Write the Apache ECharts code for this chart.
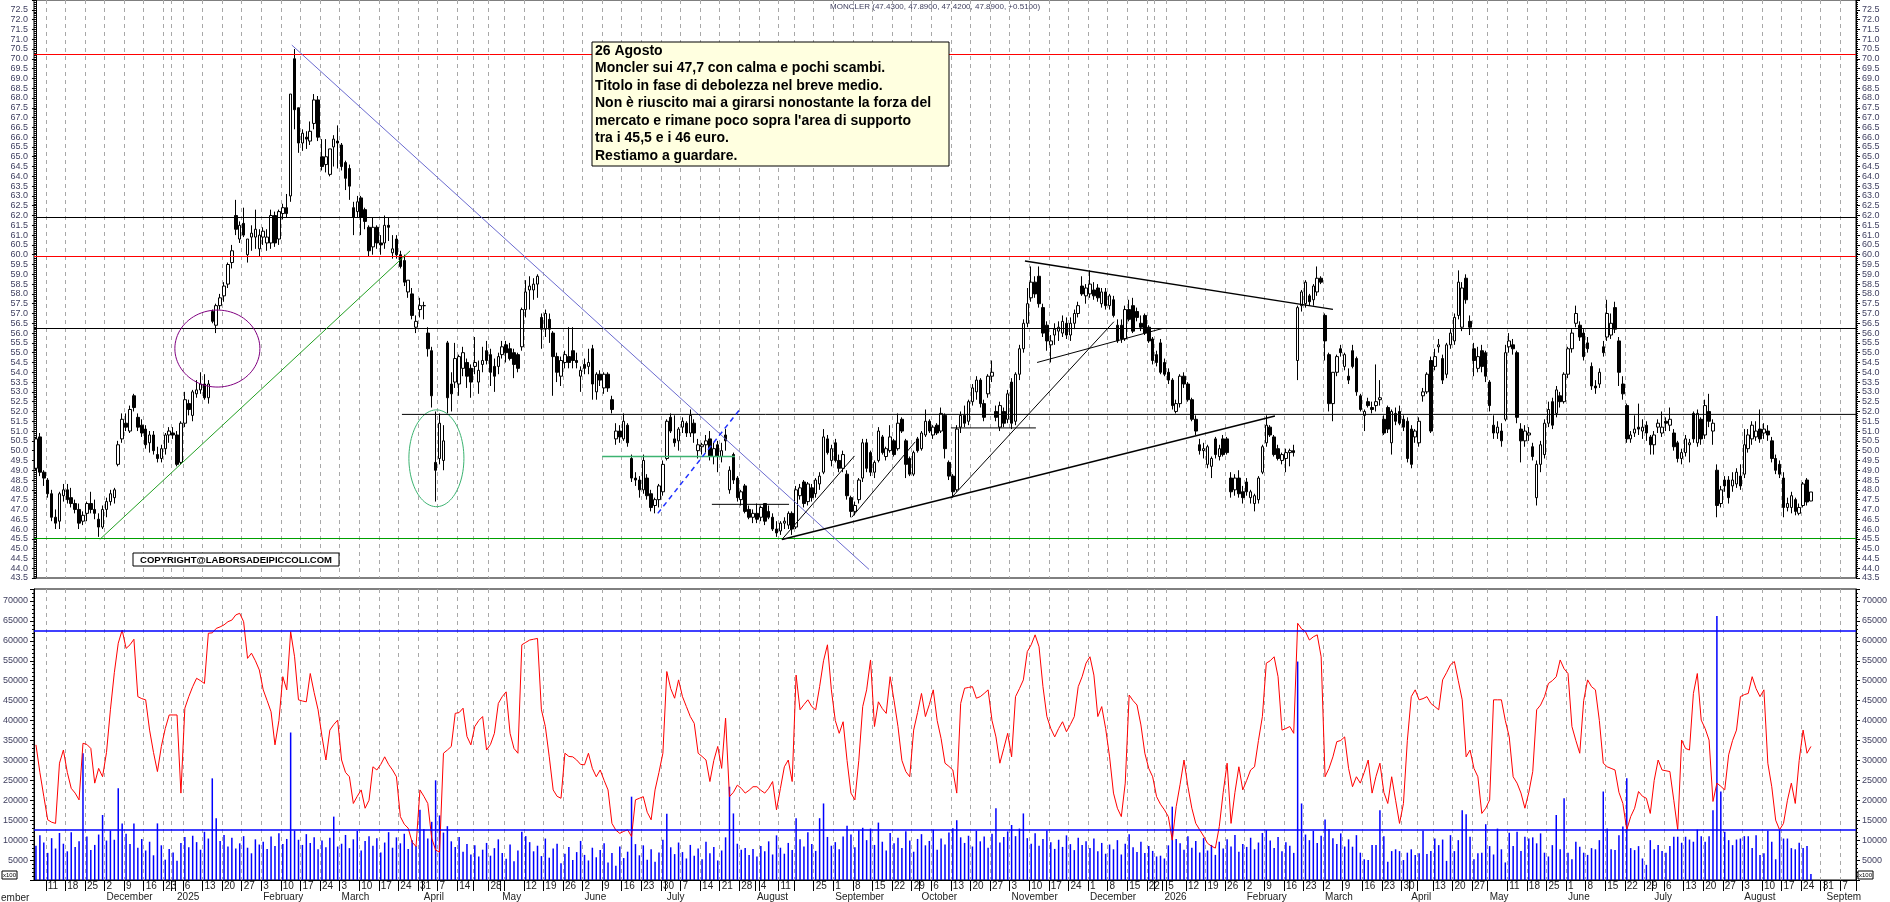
<!DOCTYPE html>
<html><head><meta charset="utf-8">
<script src="https://cdn.jsdelivr.net/npm/echarts/dist/echarts.min.js"></script>
<style>html,body{margin:0;padding:0;background:#fff;}#c{width:1890px;height:902px;}</style>
</head><body><div id="c"></div>
<script>
// ---------- DATA ----------
const startDate = '2024-11-06';
const endDate = '2026-09-10';
const holidays = ['2024-12-24','2024-12-25','2024-12-26','2024-12-31','2025-01-01','2025-04-18','2025-04-21','2025-05-01','2025-08-15','2025-12-24','2025-12-25','2025-12-26','2025-12-31','2026-01-01','2026-04-03','2026-04-06','2026-05-01'];
const monthNames = ['','February','March','April','May','June','July','August','September','October','November','December'];

// daily candles: [open, high, low, close]
const candles = [
[49.1,50.7,49.0,50.6],[50.7,50.9,48.7,48.9],[48.9,49.0,48.2,48.6],[48.5,48.6,47.6,47.8],[47.8,48.0,46.4,46.6],[46.6,47.0,46.0,46.3],[46.4,47.9,46.0,47.8],[47.7,48.3,47.4,48.0],[48.0,48.3,47.3,47.5],[47.6,48.1,47.1,47.3],
[47.3,47.5,46.8,47.0],[47.0,47.3,46.0,46.3],[46.4,46.9,46.2,46.7],[46.8,47.4,46.4,47.3],[47.3,47.9,46.8,47.0],[47.0,47.5,46.5,46.8],[46.5,46.8,45.6,46.1],[46.1,47.2,46.0,47.0],[47.0,47.6,46.6,47.4],[47.4,48.0,47.2,47.8],
[47.6,48.1,47.3,48.0],[49.3,50.5,49.2,50.3],[50.6,51.9,50.4,51.6],[51.4,51.9,51.0,51.2],[51.0,52.3,50.9,52.1],[52.8,52.9,52.0,52.2],[51.7,51.9,51.0,51.2],[51.3,51.6,50.7,50.9],[51.1,51.3,50.1,50.3],[50.4,51.0,49.9,50.8],
[50.8,51.0,49.8,50.0],[49.8,50.2,49.4,49.6],[49.6,50.3,49.4,50.1],[50.1,50.9,49.8,50.8],[50.8,51.2,50.4,51.0],[50.9,51.2,50.6,50.8],[50.8,51.0,49.2,49.3],[49.4,51.5,49.3,51.4],[51.4,53.0,51.2,52.6],[52.4,52.6,51.8,52.1],
[51.8,53.1,51.5,53.0],[52.9,53.6,52.7,53.1],[53.1,54.0,52.9,53.4],[53.4,53.9,52.6,52.7],[52.7,53.6,52.4,53.4],[57.1,57.2,56.5,56.6],[56.4,57.5,56.0,57.4],[57.4,58.0,57.2,57.8],[57.9,58.6,57.6,58.4],[58.5,59.6,58.3,59.5],
[59.6,60.5,59.3,60.2],[62.0,62.8,61.0,61.3],[60.8,61.7,60.6,61.5],[61.6,62.4,60.9,61.0],[60.0,60.8,59.6,60.8],[60.9,61.5,60.2,61.1],[60.9,62.3,60.3,61.3],[60.3,61.3,59.9,61.0],[60.9,61.4,60.5,61.2],[60.6,61.3,60.2,60.9],
[60.6,62.3,60.3,62.0],[62.0,62.2,60.4,60.6],[60.8,62.3,60.5,62.2],[62.1,62.6,61.8,62.4],[62.4,63.1,61.9,62.1],[63.0,68.2,62.7,68.2],[70.0,70.5,66.4,67.4],[67.5,67.5,65.2,65.7],[65.7,66.4,65.3,66.2],[66.0,66.3,65.4,65.9],
[65.8,66.8,65.6,66.3],[66.7,68.2,66.4,67.9],[67.9,68.1,65.8,66.0],[65.0,65.9,64.3,64.5],[64.6,65.9,64.2,65.0],[64.1,65.4,64.0,65.4],[65.5,66.1,64.5,65.9],[65.8,66.6,64.4,65.7],[65.6,65.7,64.3,64.5],[64.7,64.8,63.3,63.9],
[64.4,64.6,62.8,63.5],[62.4,62.7,61.0,61.9],[62.2,63.0,61.9,62.7],[62.9,63.0,61.0,61.9],[62.3,62.4,61.3,61.7],[61.4,61.5,59.9,60.2],[60.4,61.9,60.0,61.4],[61.4,61.5,60.3,60.6],[60.6,61.0,60.0,60.5],[60.6,62.0,60.3,61.5],
[61.5,61.9,60.7,61.4],[60.1,61.0,59.8,60.3],[60.8,61.0,59.8,60.0],[60.0,60.2,59.3,59.4],[59.7,60.0,58.4,58.6],[58.1,58.7,57.8,58.7],[58.0,58.3,56.7,56.9],[56.3,56.9,56.0,56.6],[57.2,57.8,56.8,57.4],[57.4,57.6,56.7,57.4],
[56.0,56.3,54.8,55.2],[55.1,55.3,52.2,52.8],[49.4,52.0,47.4,49.0],[49.6,51.9,49.3,51.4],[49.5,51.3,49.0,50.5],[55.5,55.6,51.9,52.7],[53.4,54.0,52.0,52.9],[53.5,55.5,53.2,54.7],[53.4,54.9,52.8,54.8],[54.2,55.3,53.8,55.0],
[54.5,54.7,53.2,53.8],[54.2,54.4,52.7,53.5],[54.3,55.8,53.9,54.5],[53.5,54.6,52.9,54.1],[54.4,55.3,54.0,54.6],[55.1,55.6,54.4,54.6],[54.9,55.2,53.3,54.0],[54.3,54.7,53.0,53.8],[54.3,55.0,53.9,54.8],[54.9,55.6,54.7,55.3],
[55.4,55.6,54.5,55.0],[55.2,55.5,54.6,54.7],[55.0,55.2,53.7,54.4],[54.9,55.0,54.0,54.2],[55.3,57.3,55.1,57.2],[57.2,58.7,56.8,58.1],[58.2,58.9,57.2,58.4],[58.2,58.8,57.7,58.5],[58.5,59.0,57.8,58.9],[56.8,57.0,55.2,56.2],
[56.2,57.2,55.8,57.0],[56.7,57.0,55.5,56.2],[56.0,56.1,52.8,54.8],[54.8,55.0,53.5,54.0],[53.8,54.8,53.3,54.6],[54.5,55.1,54.2,54.9],[54.8,56.3,54.2,54.5],[55.1,56.3,54.2,54.6],[54.6,55.0,54.2,54.5],[53.8,54.3,53.0,54.1],
[54.4,54.7,53.9,54.2],[54.3,55.2,53.9,54.5],[55.2,55.4,52.6,53.4],[53.0,54.0,52.6,53.9],[53.9,54.1,53.3,53.6],[53.2,54.0,52.9,53.9],[53.9,54.0,53.0,53.2],[52.6,52.8,51.9,52.1],[50.6,51.4,50.3,51.0],[51.0,51.3,50.4,50.7],
[50.6,51.9,50.5,51.5],[51.3,51.4,50.2,50.4],[49.6,49.8,48.4,48.6],[48.6,48.9,48.2,48.5],[48.5,48.7,47.6,48.0],[48.0,49.8,47.8,49.5],[48.6,48.8,47.5,47.7],[47.8,48.0,46.9,47.1],[47.2,47.6,46.8,47.5],[47.5,48.3,47.1,48.2],
[47.9,49.5,47.7,49.3],[49.6,51.6,49.5,51.5],[51.7,51.9,50.9,51.0],[50.6,51.8,50.2,50.4],[50.5,51.2,50.0,51.1],[51.2,51.7,50.9,51.5],[51.4,51.5,50.7,50.9],[50.9,52.1,50.7,51.8],[51.4,51.6,50.4,50.9],[50.0,50.6,49.6,50.3],
[50.2,50.4,49.8,50.3],[50.3,50.8,49.9,50.5],[50.6,51.0,49.5,49.7],[49.7,50.4,49.3,50.1],[50.3,50.5,48.9,49.7],[49.7,50.4,49.4,50.0],[50.8,51.1,50.0,50.5],[48.0,49.2,47.8,49.0],[49.8,49.9,48.3,48.5],[48.6,48.7,47.4,47.6],
[47.5,48.0,47.2,47.9],[48.2,48.3,46.8,46.9],[47.0,47.2,46.5,46.6],[46.6,47.0,46.3,46.8],[46.8,47.3,46.3,46.5],[46.6,47.2,46.4,47.1],[47.3,47.3,46.2,46.4],[46.9,47.2,46.5,46.6],[46.6,46.8,45.9,46.0],[46.0,46.4,45.6,45.8],
[45.9,46.4,45.7,46.3],[46.3,46.6,46.0,46.4],[46.2,46.9,46.0,46.8],[46.8,46.9,45.7,46.0],[46.1,48.2,46.0,48.0],[47.7,48.3,47.5,48.1],[48.4,48.5,47.1,47.3],[47.4,48.4,47.2,48.3],[48.1,48.3,47.4,47.6],[47.8,48.6,47.6,48.5],
[48.3,48.9,48.0,48.7],[48.9,51.1,48.8,50.7],[50.6,50.8,49.8,49.9],[49.5,50.3,49.2,50.1],[50.4,50.6,49.4,49.5],[49.5,49.8,48.9,49.1],[49.1,50.0,48.9,49.8],[48.8,49.0,47.5,47.7],[47.6,47.7,46.6,46.9],[46.9,47.4,46.7,47.2],
[47.5,48.6,47.3,48.5],[48.6,50.6,48.4,50.4],[50.4,50.6,48.9,49.1],[49.9,50.0,48.7,48.9],[48.9,49.5,48.6,49.4],[49.5,51.2,49.4,51.0],[50.7,50.8,49.8,49.9],[49.7,50.2,49.5,50.1],[50.0,51.3,49.9,50.7],[50.5,50.6,49.7,49.8],
[50.1,51.9,50.0,51.4],[51.6,51.7,50.9,51.0],[50.5,50.6,48.6,49.3],[49.6,49.7,48.7,48.8],[48.8,50.0,48.7,49.9],[50.6,50.7,49.9,50.0],[50.1,51.0,50.0,50.9],[50.8,52.1,50.7,51.5],[51.5,51.6,50.9,51.0],[50.8,51.3,50.6,51.2],
[51.3,51.4,50.8,50.9],[51.0,52.2,50.9,51.9],[51.8,51.9,49.6,50.1],[49.4,49.5,48.5,48.7],[48.7,48.8,47.6,47.9],[48.0,51.3,47.9,51.1],[51.2,52.0,50.9,51.8],[51.8,52.3,51.2,51.4],[51.5,52.6,51.3,52.5],[52.5,53.4,52.3,53.2],
[53.0,53.8,52.6,53.6],[53.6,53.7,52.2,52.4],[52.4,52.6,51.5,51.7],[52.9,53.9,52.7,53.8],[53.8,54.6,53.5,54.0],[52.0,52.3,51.5,51.7],[51.2,52.5,51.0,52.3],[52.0,52.2,51.2,51.4],[51.6,53.1,51.4,52.9],[53.5,53.7,51.1,51.4],
[51.5,54.0,51.3,53.9],[53.9,55.4,53.6,55.2],[55.2,56.7,55.0,56.5],[56.5,58.3,56.3,57.5],[57.8,59.4,57.6,58.6],[58.6,58.9,57.8,58.0],[58.9,59.4,57.3,57.5],[57.3,57.5,55.8,56.0],[56.4,56.6,55.1,55.6],[55.4,55.9,54.5,55.6],
[55.9,56.5,55.4,56.2],[56.1,56.6,55.6,56.3],[56.0,56.9,55.8,56.6],[56.5,56.8,55.7,55.9],[55.9,56.8,55.6,56.5],[56.5,57.2,56.2,57.0],[57.0,57.6,56.8,57.4],[58.4,58.9,57.9,58.0],[57.9,58.5,57.5,58.3],[58.0,59.2,57.8,58.5],
[58.2,58.6,57.7,57.9],[58.3,58.5,57.6,57.8],[57.5,58.3,57.3,58.1],[58.1,58.3,57.2,57.4],[57.4,58.0,57.2,57.9],[57.7,57.9,56.8,56.9],[56.4,56.7,55.5,55.6],[56.4,56.7,55.5,55.7],[55.7,57.4,55.6,57.2],[57.2,57.7,56.6,56.7],
[57.4,57.8,56.0,56.1],[57.1,57.3,56.6,56.8],[56.5,56.9,56.1,56.3],[56.9,57.0,55.9,56.0],[56.3,56.4,55.5,55.6],[55.7,55.8,54.4,54.6],[54.9,55.1,54.3,54.5],[55.5,55.7,53.9,54.0],[54.5,54.7,53.8,53.9],[54.0,54.2,53.4,53.6],
[53.6,53.7,52.1,52.3],[52.0,52.6,51.9,52.4],[52.4,53.9,52.2,53.8],[53.8,54.0,53.2,53.4],[53.4,53.5,52.5,52.6],[52.6,52.7,51.5,51.6],[51.6,51.8,50.8,51.0],[50.3,50.6,49.8,50.0],[50.0,50.4,49.6,50.1],[49.3,50.3,49.1,50.2],
[49.2,49.7,48.6,49.6],[50.6,50.7,49.6,49.8],[49.7,50.3,49.5,50.1],[50.6,50.8,49.7,49.8],[50.6,50.7,49.8,49.9],[48.6,48.9,47.6,47.9],[48.0,48.8,47.7,48.6],[48.6,49.0,47.6,47.8],[47.9,48.2,47.3,47.6],[48.4,48.6,47.7,47.9],
[47.6,48.0,47.3,47.9],[47.3,47.8,46.9,47.7],[47.5,48.7,47.3,48.6],[48.9,50.3,48.8,50.2],[50.4,51.8,50.2,51.3],[51.2,51.3,50.7,50.8],[50.7,50.8,49.7,49.8],[50.1,50.3,49.5,49.6],[49.5,49.9,49.3,49.8],[49.6,50.1,48.9,49.9],
[49.9,50.1,49.2,50.0],[50.0,50.3,49.7,49.9],[54.6,57.4,53.6,57.3],[57.4,58.2,57.1,58.1],[57.5,58.7,57.3,58.6],[57.9,58.0,57.4,57.6],[57.7,58.5,57.4,58.4],[58.1,59.4,57.9,58.8],[58.8,58.9,58.5,58.6],[56.9,57.0,54.6,55.6],
[54.9,55.0,52.0,52.4],[52.4,54.0,51.5,54.0],[54.0,54.9,53.8,54.8],[55.2,55.4,54.8,55.0],[54.3,55.0,54.1,54.9],[53.8,54.2,53.4,53.6],[55.1,55.4,54.2,54.3],[54.7,54.8,52.8,53.0],[52.8,52.9,52.0,52.1],[51.8,52.1,51.0,52.0],
[52.5,52.7,52.2,52.3],[52.2,52.5,51.9,52.1],[52.3,54.4,52.0,52.5],[52.6,53.6,52.3,52.7],[51.6,51.8,50.8,50.9],[52.2,52.3,50.9,51.1],[50.4,52.1,49.8,52.0],[51.9,52.2,51.3,51.5],[52.0,52.3,51.3,51.4],[51.6,51.8,51.0,51.2],
[51.5,51.7,49.4,49.6],[51.1,51.3,49.1,49.3],[50.7,51.1,50.4,51.0],[50.4,51.7,50.2,51.5],[52.8,53.2,52.5,53.0],[53.0,54.0,52.9,53.9],[54.6,54.8,50.9,51.0],[54.3,55.2,54.1,54.8],[55.3,55.7,55.0,55.4],[54.7,54.9,53.4,53.6],
[53.9,55.5,53.7,55.4],[55.4,56.2,55.2,56.0],[55.6,57.0,55.4,56.8],[56.9,59.2,56.7,58.6],[56.3,58.6,56.1,58.3],[58.8,59.0,57.5,57.7],[56.6,56.9,55.9,56.3],[55.2,55.5,53.8,54.6],[54.2,55.3,54.0,54.8],[55.1,55.4,54.0,54.3],
[55.0,55.1,53.5,53.8],[53.5,53.6,52.0,52.3],[51.3,51.8,50.6,50.9],[50.9,51.5,50.6,51.2],[51.0,51.4,50.2,50.5],[51.6,55.4,51.5,55.0],[55.3,56.0,55.0,55.6],[55.4,55.7,54.9,55.2],[55.0,55.1,51.4,51.7],[51.1,51.4,49.4,50.5],
[50.5,51.3,50.2,51.0],[50.8,51.2,50.5,50.9],[50.2,50.4,49.5,49.7],[47.6,49.5,47.2,49.3],[49.3,50.5,48.9,50.3],[49.8,51.6,49.6,51.4],[51.4,52.5,51.2,52.1],[52.5,52.7,51.1,51.3],[51.9,53.3,51.7,53.1],[52.8,53.0,52.2,52.5],
[52.5,54.0,52.4,53.9],[53.9,55.3,53.7,55.2],[55.2,56.2,55.0,56.0],[56.5,57.4,56.3,57.0],[56.4,56.6,55.6,55.8],[56.0,56.2,54.6,54.8],[55.5,55.8,55.0,55.2],[54.3,54.5,53.1,53.3],[53.3,53.6,52.9,53.2],[53.4,54.2,53.2,54.0],
[55.3,55.6,54.8,55.0],[55.8,57.7,55.6,57.0],[55.9,57.0,55.7,56.5],[57.3,57.6,56.0,56.2],[55.6,55.8,53.3,54.0],[53.4,53.8,52.6,52.9],[52.3,52.4,50.4,50.6],[50.6,51.0,50.4,50.8],[50.9,51.8,50.7,51.1],[51.2,52.4,50.8,51.1],
[51.0,51.6,50.6,51.2],[51.3,51.5,50.5,50.9],[50.7,50.8,49.8,50.3],[50.3,51.0,49.8,50.8],[51.2,51.6,50.9,51.4],[50.9,52.0,50.7,51.2],[51.5,51.7,51.0,51.4],[51.3,52.2,51.0,51.6],[50.9,51.1,50.0,50.2],[50.4,50.5,49.4,49.6],
[49.6,50.1,49.3,49.9],[49.9,50.8,49.7,50.6],[50.3,50.6,49.4,50.4],[51.9,52.0,50.4,50.6],[50.4,52.1,50.2,51.9],[51.6,51.7,50.3,50.6],[50.8,52.6,50.6,52.3],[52.0,52.9,51.2,51.5],[51.0,51.6,50.3,51.4],[49.0,49.3,46.6,47.2],
[47.3,48.2,47.1,48.0],[48.5,48.7,47.9,48.2],[48.5,48.7,47.3,47.6],[48.2,48.9,47.9,48.5],[48.3,49.1,48.1,48.9],[48.7,49.3,48.0,48.2],[48.8,51.1,48.6,50.3],[50.1,51.1,49.9,50.8],[50.6,51.5,50.3,51.3],[50.7,51.5,50.5,51.0],
[51.1,52.1,50.4,50.6],[50.9,51.4,50.6,51.1],[51.0,51.3,50.5,50.8],[50.5,50.7,49.4,49.6],[49.6,49.8,48.8,49.0],[49.3,49.5,48.6,48.8],[48.6,48.9,46.6,47.1],[47.1,47.6,46.9,47.3],[47.1,47.9,46.8,47.7],[47.5,47.6,46.7,46.9],
[46.8,47.3,46.7,47.1],[47.2,48.4,47.1,48.3],[48.5,48.6,47.2,47.38],[47.43,47.89,47.42,47.89]
];

// daily volume (thousands, axis shown in x100 units)
const volumes = [
8.6,11.2,9.4,6.8,10.5,7.9,11.8,9.1,7.2,12.0,8.3,9.7,31.8,10.9,7.5,8.8,11.4,16.3,9.9,12.4,10.1,23.0,14.2,11.6,9.0,14.2,8.1,10.3,7.4,9.6,6.2,14.2,8.7,5.1,7.8,6.9,
4.8,9.3,10.8,8.2,11.1,9.5,7.6,12.1,10.4,25.5,15.5,9.8,11.3,8.4,10.6,7.9,9.2,11.0,8.1,6.7,10.2,8.9,
9.6,7.8,10.9,8.5,11.7,9.0,10.3,37.0,12.4,10.1,8.8,11.5,9.3,10.7,7.7,9.9,8.2,10.6,15.9,8.4,
9.1,11.3,8.0,10.2,12.3,7.4,9.8,11.0,8.6,10.5,6.9,9.4,12.0,8.1,10.7,9.2,11.6,7.8,10.0,8.5,17.6,
12.8,10.4,14.6,25.0,16.2,11.9,13.5,9.7,8.3,10.8,7.1,9.0,6.4,8.7,5.9,7.6,9.3,6.1,8.0,10.2,
6.8,5.3,8.9,4.7,7.4,12.1,11.0,9.5,7.2,8.6,6.0,10.4,5.6,7.9,9.1,4.2,6.6,8.3,5.0,7.0,9.8,
6.3,4.9,8.1,5.7,7.5,9.2,4.4,6.8,3.6,8.4,5.5,7.1,20.9,9.0,6.2,8.7,5.1,7.7,4.6,6.9,10.1,
16.6,8.2,6.5,9.4,7.0,5.4,8.8,6.1,7.9,5.2,9.6,6.7,8.3,4.9,7.4,10.7,23.4,16.7,9.1,7.6,8.0,6.3,7.8,
5.9,8.5,7.2,9.7,6.4,11.2,8.1,6.6,9.3,7.5,15.5,10.2,8.4,12.0,9.0,7.3,15.5,19.2,10.8,8.6,
9.5,7.7,10.9,13.6,11.4,8.2,12.5,13.1,10.0,12.9,8.8,14.4,9.6,7.4,11.8,9.2,10.6,8.0,12.2,9.9,7.1,10.3,
11.5,8.7,9.8,12.6,7.6,10.4,8.9,11.9,13.0,15.0,10.7,9.3,11.1,8.4,12.3,9.7,10.9,8.1,11.6,18.0,9.4,10.8,12.2,
13.8,11.0,12.9,16.7,10.5,9.1,11.7,8.6,10.3,12.4,9.5,7.8,10.1,8.3,11.2,9.0,7.5,10.6,8.8,9.7,
8.0,10.4,7.2,9.3,6.6,8.9,7.7,10.0,6.4,9.1,11.5,8.2,7.0,9.6,6.8,8.5,7.3,5.9,6.1,
5.4,8.7,18.4,10.3,9.2,7.6,11.0,8.1,9.8,6.9,10.5,7.4,8.8,6.3,9.6,7.9,10.2,8.4,11.3,7.1,9.0,
8.3,10.6,7.7,9.4,11.8,12.5,9.9,8.0,10.8,7.2,9.5,8.6,6.8,54.8,19.2,11.4,10.0,12.3,9.3,11.1,
15.2,12.8,10.5,9.0,11.7,8.4,10.2,
8.35,11.25,6.85,5.2,5.0,8.75,8.75,17.5,11.0,4.6,
7.25,7.7,7.25,5.0,6.85,7.7,6.3,6.7,12.35,6.5,
7.25,10.4,8.75,10.15,4.8,11.25,7.25,10.0,17.5,16.5,
10.85,5.2,6.7,6.85,14.0,8.5,6.4,12.9,7.7,4.4,
11.85,8.5,12.1,7.25,10.85,10.4,10.7,9.2,11.7,6.85,
5.9,8.75,16.3,7.7,20.5,6.85,5.2,9.6,8.35,6.85,
6.3,8.0,7.7,10.0,22.2,12.9,7.7,7.5,11.25,13.4,
25.5,8.0,7.5,8.5,5.4,3.8,10.0,7.7,8.75,7.25,
6.85,8.5,10.85,10.85,9.35,10.85,10.15,9.6,12.65,11.0,
9.6,11.0,17.5,66.2,22.2,12.1,10.0,8.75,10.15,10.4,
11.0,11.0,8.0,11.25,6.3,6.7,12.35,9.6,5.2,12.5,
10.4,10.4,8.0,7.7,9.35,8.0,8.5,1.5
];

// red indicator line (thousands)
const oscillator = [
33.9,27,21,15.1,14.5,14.2,29.3,32.6,27,23,
21.8,20.1,34.3,34,33,24.3,28,25.9,32,42.7,
52,59.4,62.7,58.1,59,60.4,46,45.5,45.2,37.6,
32,27.2,33.5,38,41.4,41.4,41.4,21.8,43.1,46,
48.5,50.6,50,49.3,61.9,62,63.1,63.5,64,64.8,
65.2,66.5,66.9,64.8,55.6,56.9,55,52.7,47.7,45,
42.2,33.9,40,51,47.7,62.3,56,45.2,44.9,44.7,
51.8,47,42.7,36,30.1,37.6,39,40.1,30.1,27,
25.9,19.2,21,22.6,18,20,28.4,27.6,29,30.9,
29,27.6,25.9,15.9,14,13,9.5,8.4,22.6,21,
19.2,10.5,7.5,7,31.8,32.6,33.5,41.8,42,43.1,
36,33.9,38.5,40,41,32.6,34,36.8,44.3,46,
47.2,36.8,33,31.8,59,59.6,60.2,60.4,60.6,42.7,
38.5,30.9,22.6,21,20.5,31.8,31,30.9,30.1,29,
28.9,31.8,28,25.9,27.6,25,22.6,14.2,12.5,11.7,
12.2,12.6,10.9,20.1,20.5,20.9,17,15.1,22.6,27,
31.8,52.3,48,45.6,50.2,46,43.5,41,39.3,31.8,
31,30.1,24.7,30,33.5,28,40.6,20.9,22,23.8,
23,21.8,22.5,23.4,23.4,22.5,21.8,23,24.7,17.6,
23,28.4,30.1,24.7,51.4,42.7,44,45.2,43.5,42.7,
48.5,55,59,47.7,40,36.8,39.7,30,21.8,20.1,
30,43.5,47.7,55.2,38.5,44.7,43,41.8,51,45,
38.5,30,27.2,25.9,37.6,42,46.8,41,44,47.7,
40,35.5,29.3,28.5,27.6,21.8,44.3,48.1,48.3,48.5,
45.6,46,46.8,47.7,40,35.9,29.3,33,36.8,30.9,
46,48,50.2,57.3,59,61.5,58.5,48.5,41,38,
35.9,38,39.7,37.2,39,41,48.5,51,54.4,56,
51.4,41,43.5,38,30.9,21.8,18,15.9,24.3,46.4,
45,43.9,38.9,31.8,28,25.9,20.9,19,17.6,15.9,
10,18.4,24,30.1,23.4,18,14.2,12.6,11,9.2,
8.5,8,13.4,22,29.3,14.2,22,28.4,22.6,25,
27.6,28.4,35,41,54.4,55,56,51,37.6,38,
38.5,36.8,64.4,63,62.3,60.2,61,61.5,56,25.9,
28,30.9,34.7,35,35.9,28,23.4,25.9,24.3,27,
30.1,21.8,26,29.3,22,19.2,25.9,20,14.2,19.2,
35,46,47.7,45.2,45.5,46,44.3,43.5,42.7,50.2,
52,54,54.8,50,45.2,30.9,32.6,28,25.9,16.7,
18,20.1,45.2,45.2,45.2,40,35.9,25.9,24.3,21.8,
18,22,27.2,42.7,43.9,46,49.3,50,51,55.2,
53,51.8,38.5,35,31.8,45,50.2,48.5,47.7,40,
29.3,28.4,28,27.6,22,19.2,12.6,15.9,18,22.2,
21,20.5,16.7,25,30.1,27.6,27.4,27.2,20,12.6,
35.1,33,32.6,46.8,51.8,40.1,38,35.1,19.7,24.3,
23.5,22.6,31.4,35,37.6,46,46.5,46.8,51,48,
46,47.7,29.3,23.4,15,12.6,14.2,20,24.3,19.2,
30,37.6,31.8,33.5
];

// horizontal price levels
const priceLevels = [[70.25,'#ff0000'],[61.9,'#000000'],[59.9,'#ff0000'],[56.25,'#000000'],[45.55,'#00a000']];
const volumeLevels = [62500, 12500];
// trend lines: points as [trading-day index, price]
const trendLines = [
  {p:[[65.3,70.7],[212.6,43.94]], c:'#6b6bd0', w:1},
  {p:[[16.3,45.47],[95.5,60.2]], c:'#22a022', w:1},
  {p:[[93.4,51.85],[464.5,51.85]], c:'#000000', w:1},
  {p:[[144.5,49.7],[178.4,49.7]], c:'#3cb371', w:1.5},
  {p:[[158.7,46.8],[179.5,52.07]], c:'#2233ff', w:1.5, dash:true},
  {p:[[172.5,47.26],[192.2,47.26]], c:'#000000', w:1},
  {p:[[190.4,45.47],[208.9,49.73]], c:'#000000', w:1},
  {p:[[208.2,46.6],[224.4,50.45]], c:'#000000', w:1},
  {p:[[190.4,45.47],[316.2,51.77]], c:'#000000', w:1.5},
  {p:[[233.5,47.57],[275.1,56.58]], c:'#000000', w:1},
  {p:[[233.5,51.16],[255.2,51.16]], c:'#000000', w:1},
  {p:[[255.5,54.5],[287.6,56.24]], c:'#000000', w:1},
  {p:[[252.4,59.68],[331.0,57.21]], c:'#000000', w:1.5}
];
// ellipses: [center index, center price, radius in days, radius in price, colour]
const ellipses = [[46.3,55.21,10.85,1.965,'#800080'],[102.2,49.61,7.02,2.47,'#3cb371']];
const titleText = 'MONCLER (47.4300, 47.8900, 47.4200, 47.8900, +0.5100)';
const noteLines = ['26 Agosto','Moncler sui 47,7 con calma e pochi scambi.','Titolo in fase di debolezza nel breve medio.','Non è riuscito mai a girarsi nonostante la forza del',"mercato e rimane poco sopra l'area di supporto",'tra i 45,5 e i 46 euro.','Restiamo a guardare.'];

// ---------- BUILD ----------
const dates = [];
(function(){
  let d = new Date(startDate+'T12:00:00Z'); const end = new Date(endDate+'T12:00:00Z');
  while (d <= end) { const wd = d.getUTCDay(); const s = d.toISOString().slice(0,10);
    if (wd!==0 && wd!==6 && holidays.indexOf(s)<0) dates.push(s);
    d = new Date(d.getTime()+86400000); }
})();
const N = dates.length;
const weekStart = new Set(), monthStart = new Set();
for (let i=1;i<N;i++){
  const a=new Date(dates[i-1]+'T12:00:00Z'), b=new Date(dates[i]+'T12:00:00Z');
  if (b.getUTCDay()<=a.getUTCDay() || (b-a)>=7*864e5) weekStart.add(i);
  if (b.getUTCMonth()!==a.getUTCMonth()) monthStart.add(i);
}
const candleData = candles.map(c=>[c[0],c[3],c[2],c[1]]);
const volData = volumes.map(v=>Math.round(v*1000));
const oscData = oscillator.map(v=>Math.round(v*1000));

const lab = {fontFamily:'Liberation Sans', fontSize:9, color:'#404060'};
const wkFn = (i)=>weekStart.has(i);
const moFn = (i)=>monthStart.has(i);

const chart = echarts.init(document.getElementById('c'), null, {renderer:'canvas'});
const series = [];
series.push({
  type:'candlestick', xAxisIndex:0, yAxisIndex:0, data:candleData, barWidth:3,
  itemStyle:{color:'#ffffff', color0:'#000000', borderColor:'#000000', borderColor0:'#000000', borderWidth:1},
  z:4,
  markLine:{silent:true, symbol:['none','none'], label:{show:false}, animation:false,
    data: priceLevels.map(l=>({yAxis:l[0], lineStyle:{color:l[1], width:1, type:'solid'}}))}
});
trendLines.forEach(t=>series.push({
  type:'line', xAxisIndex:1, yAxisIndex:0, data:t.p, showSymbol:false, symbol:'none', silent:true, z:5,
  lineStyle:{color:t.c, width:t.w, type: t.dash?[5,4]:'solid'}
}));
ellipses.forEach(e=>series.push({
  type:'custom', xAxisIndex:1, yAxisIndex:0, data:[[e[0],e[1],e[2],e[3]]], silent:true, z:5,
  renderItem:function(params, api){
    const c = api.coord([api.value(0), api.value(1)]);
    const s = api.size([api.value(2), api.value(3)]);
    const pts=[]; for(let k=0;k<=90;k++){const a=k/90*Math.PI*2; pts.push([c[0]+s[0]*Math.cos(a), c[1]+s[1]*Math.sin(a)]);}
    return {type:'polyline', shape:{points:pts}, style:{fill:null, stroke:e[4], lineWidth:1}};
  }
}));
series.push({
  type:'bar', xAxisIndex:2, yAxisIndex:2, data:volData, barWidth:1.5, itemStyle:{color:'#0000ff'}, z:3,
  markLine:{silent:true, symbol:['none','none'], label:{show:false}, animation:false,
    data: volumeLevels.map(v=>({yAxis:v, lineStyle:{color:'#0000ff', width:1.5, type:'solid'}}))}
});
series.push({type:'line', xAxisIndex:2, yAxisIndex:2, data:oscData, showSymbol:false, symbol:'none', z:4,
  lineStyle:{color:'#ff0000', width:1}});

const dash = {show:true, lineStyle:{color:'#a8a8a8', width:1, type:[4,4]}};
const volFmt = (v)=>String(Math.round(v));
chart.setOption({
  animation:false,
  backgroundColor:'#ffffff',
  grid:[
    {left:34, right:34, top:0, height:578, show:true, borderColor:'#000', borderWidth:1, backgroundColor:'transparent', outerBoundsMode:'none', containLabel:false},
    {left:34, right:34, top:589, height:291, show:true, borderColor:'#000', borderWidth:1, backgroundColor:'transparent', outerBoundsMode:'none', containLabel:false}
  ],
  xAxis:[
    {type:'category', gridIndex:0, data:dates, axisLine:{show:false}, axisTick:{show:false}, axisLabel:{show:false},
      splitLine:Object.assign({interval:wkFn}, dash)},
    {type:'value', gridIndex:0, min:-0.5, max:N-0.5, show:false},
    {type:'category', gridIndex:1, data:dates, position:'bottom',
      axisLine:{show:true, lineStyle:{color:'#000', width:1}},
      axisTick:{show:true, interval:wkFn, length:11, lineStyle:{color:'#000'}},
      axisLabel:{show:true, interval:wkFn, align:'left', margin:1, hideOverlap:true, fontFamily:'Liberation Sans', fontSize:10, color:'#222',
        formatter:(v)=>String(parseInt(v.slice(8,10),10))},
      splitLine:Object.assign({interval:wkFn}, dash)},
    {type:'category', gridIndex:1, data:dates, position:'bottom', offset:11,
      axisLine:{show:true, lineStyle:{color:'#000', width:1}},
      axisTick:{show:true, interval:moFn, length:11, lineStyle:{color:'#000'}},
      axisLabel:{show:true, interval:moFn, align:'left', margin:1, fontFamily:'Liberation Sans', fontSize:10, color:'#222',
        formatter:(v)=>{const m=parseInt(v.slice(5,7),10)-1; if(m===0) return v.slice(0,4); if(m===8 && v.slice(0,4)==='2026') return 'Septem'; return monthNames[m];}},
      splitLine:{show:false}}
  ],
  yAxis:[
    {type:'value', gridIndex:0, position:'left', min:43.5, max:73, interval:0.5,
      axisLine:{show:true, lineStyle:{color:'#000'}}, axisTick:{show:true, length:4, lineStyle:{color:'#000'}},
      minorTick:{show:true, splitNumber:5, length:2, lineStyle:{color:'#000'}},
      axisLabel:Object.assign({margin:6, showMaxLabel:false, formatter:(v)=>v.toFixed(1)}, lab), splitLine:{show:false}},
    {type:'value', gridIndex:0, position:'right', min:43.5, max:73, interval:0.5,
      axisLine:{show:true, lineStyle:{color:'#000'}}, axisTick:{show:true, length:4, lineStyle:{color:'#000'}},
      minorTick:{show:true, splitNumber:5, length:2, lineStyle:{color:'#000'}},
      axisLabel:Object.assign({margin:6, showMaxLabel:false, formatter:(v)=>v.toFixed(1)}, lab), splitLine:{show:false}},
    {type:'value', gridIndex:1, position:'left', min:0, max:73000, interval:5000,
      axisLine:{show:true, lineStyle:{color:'#000'}}, axisTick:{show:true, length:4, lineStyle:{color:'#000'}},
      minorTick:{show:true, splitNumber:5, length:2, lineStyle:{color:'#000'}},
      axisLabel:Object.assign({margin:6, showMaxLabel:false, showMinLabel:false, formatter:volFmt}, lab), splitLine:{show:false}},
    {type:'value', gridIndex:1, position:'right', min:0, max:73000, interval:5000,
      axisLine:{show:true, lineStyle:{color:'#000'}}, axisTick:{show:true, length:4, lineStyle:{color:'#000'}},
      minorTick:{show:true, splitNumber:5, length:2, lineStyle:{color:'#000'}},
      axisLabel:Object.assign({margin:6, showMaxLabel:false, showMinLabel:false, formatter:volFmt}, lab), splitLine:{show:false}}
  ],
  series: series,
  graphic:[
    {type:'text', left:830, top:3, z:50, style:{text:titleText, font:'8px "Liberation Sans"', fill:'#404060'}},
    {type:'rect', shape:{x:592, y:42, width:357, height:124}, style:{fill:'#ffffe0', stroke:'#000', lineWidth:1}, z:100},
    {type:'text', x:595, y:42, z:101, style:{text:noteLines.join('\n'), font:'bold 14px "Liberation Sans"', fill:'#000', lineHeight:17.5, verticalAlign:'top', align:'left'}},
    {type:'rect', shape:{x:133, y:553, width:206, height:13}, style:{fill:'#ffffff', stroke:'#000', lineWidth:1}, z:100},
    {type:'text', x:236, y:560, z:101, style:{text:'COPYRIGHT@LABORSADEIPICCOLI.COM', font:'bold 9.5px "Liberation Sans"', fill:'#000', align:'center', verticalAlign:'middle'}},
    {type:'text', x:1, y:893, z:50, style:{text:'ember', font:'10px "Liberation Sans"', fill:'#222', verticalAlign:'top'}},
    {type:'rect', shape:{x:2, y:871, width:15, height:8}, style:{fill:'#fff', stroke:'#000', lineWidth:1}, z:50},
    {type:'text', x:9.5, y:875, z:51, style:{text:'x100', font:'6px "Liberation Sans"', fill:'#000', align:'center', verticalAlign:'middle'}},
    {type:'rect', shape:{x:1858, y:871, width:15, height:8}, style:{fill:'#fff', stroke:'#000', lineWidth:1}, z:50},
    {type:'text', x:1865.5, y:875, z:51, style:{text:'x100', font:'6px "Liberation Sans"', fill:'#000', align:'center', verticalAlign:'middle'}}
  ]
});
</script>
</body></html>
